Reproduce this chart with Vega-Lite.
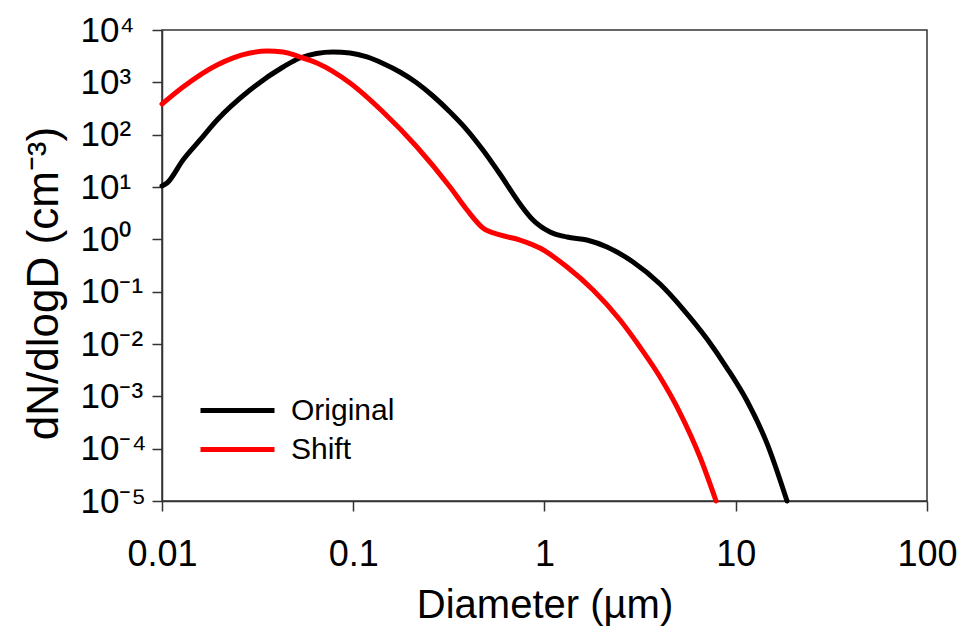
{
  "$schema": "https://vega.github.io/schema/vega-lite/v6.json",
  "width": 765,
  "height": 471,
  "autosize": {"type": "none"},
  "padding": {"left": 162, "top": 30, "right": 37, "bottom": 127},
  "background": "white",
  "config": {
    "view": {"stroke": "#333333", "strokeWidth": 1.5},
    "font": "Liberation Sans, Arial, sans-serif"
  },
  "data": {
    "values": [
      {"diameter": 0.01, "dndlogd": 10.45, "series": "Original"},
      {"diameter": 0.01062, "dndlogd": 11.91, "series": "Original"},
      {"diameter": 0.01288, "dndlogd": 32.8, "series": "Original"},
      {"diameter": 0.01581, "dndlogd": 79.1, "series": "Original"},
      {"diameter": 0.01941, "dndlogd": 190.5, "series": "Original"},
      {"diameter": 0.02884, "dndlogd": 712.9, "series": "Original"},
      {"diameter": 0.04295, "dndlogd": 1963, "series": "Original"},
      {"diameter": 0.05272, "dndlogd": 2917, "series": "Original"},
      {"diameter": 0.07834, "dndlogd": 3802, "series": "Original"},
      {"diameter": 0.09616, "dndlogd": 3631, "series": "Original"},
      {"diameter": 0.118, "dndlogd": 3050, "series": "Original"},
      {"diameter": 0.1432, "dndlogd": 2291, "series": "Original"},
      {"diameter": 0.1754, "dndlogd": 1575, "series": "Original"},
      {"diameter": 0.2153, "dndlogd": 971, "series": "Original"},
      {"diameter": 0.2612, "dndlogd": 548, "series": "Original"},
      {"diameter": 0.3206, "dndlogd": 271, "series": "Original"},
      {"diameter": 0.3936, "dndlogd": 122.7, "series": "Original"},
      {"diameter": 0.4764, "dndlogd": 50.9, "series": "Original"},
      {"diameter": 0.5848, "dndlogd": 17.7, "series": "Original"},
      {"diameter": 0.7447, "dndlogd": 4.73, "series": "Original"},
      {"diameter": 0.871, "dndlogd": 2.34, "series": "Original"},
      {"diameter": 1.069, "dndlogd": 1.38, "series": "Original"},
      {"diameter": 1.312, "dndlogd": 1.107, "series": "Original"},
      {"diameter": 1.667, "dndlogd": 0.9705, "series": "Original"},
      {"diameter": 2.123, "dndlogd": 0.713, "series": "Original"},
      {"diameter": 2.904, "dndlogd": 0.369, "series": "Original"},
      {"diameter": 4.018, "dndlogd": 0.14, "series": "Original"},
      {"diameter": 5.297, "dndlogd": 0.0466, "series": "Original"},
      {"diameter": 7.079, "dndlogd": 0.01245, "series": "Original"},
      {"diameter": 8.995, "dndlogd": 0.003475, "series": "Original"},
      {"diameter": 11.46, "dndlogd": 0.000813, "series": "Original"},
      {"diameter": 14.55, "dndlogd": 0.000128, "series": "Original"},
      {"diameter": 18.54, "dndlogd": 0.00001, "series": "Original"},

      {"diameter": 0.01, "dndlogd": 385.5, "series": "Shift"},
      {"diameter": 0.01288, "dndlogd": 814.7, "series": "Shift"},
      {"diameter": 0.01941, "dndlogd": 2143, "series": "Shift"},
      {"diameter": 0.02884, "dndlogd": 3631, "series": "Shift"},
      {"diameter": 0.0354, "dndlogd": 3972, "series": "Shift"},
      {"diameter": 0.04295, "dndlogd": 3802, "series": "Shift"},
      {"diameter": 0.05272, "dndlogd": 3048, "series": "Shift"},
      {"diameter": 0.06457, "dndlogd": 2339, "series": "Shift"},
      {"diameter": 0.09616, "dndlogd": 970.5, "series": "Shift"},
      {"diameter": 0.1432, "dndlogd": 271.0, "series": "Shift"},
      {"diameter": 0.2153, "dndlogd": 58.1, "series": "Shift"},
      {"diameter": 0.3206, "dndlogd": 10.0, "series": "Shift"},
      {"diameter": 0.3936, "dndlogd": 3.631, "series": "Shift"},
      {"diameter": 0.4764, "dndlogd": 1.644, "series": "Shift"},
      {"diameter": 0.5848, "dndlogd": 1.211, "series": "Shift"},
      {"diameter": 0.7447, "dndlogd": 0.9705, "series": "Shift"},
      {"diameter": 0.9462, "dndlogd": 0.6823, "series": "Shift"},
      {"diameter": 1.312, "dndlogd": 0.2958, "series": "Shift"},
      {"diameter": 1.795, "dndlogd": 0.1076, "series": "Shift"},
      {"diameter": 2.483, "dndlogd": 0.02871, "series": "Shift"},
      {"diameter": 3.155, "dndlogd": 0.00875, "series": "Shift"},
      {"diameter": 4.018, "dndlogd": 0.002339, "series": "Shift"},
      {"diameter": 5.117, "dndlogd": 0.0004797, "series": "Shift"},
      {"diameter": 6.501, "dndlogd": 0.00006918, "series": "Shift"},
      {"diameter": 7.889, "dndlogd": 0.00001, "series": "Shift"}
    ]
  },
  "mark": {"type": "line", "strokeWidth": 5, "interpolate": "monotone", "strokeCap": "round"},
  "encoding": {
    "x": {
      "field": "diameter",
      "type": "quantitative",
      "scale": {"type": "log", "domain": [0.01, 100], "nice": false},
      "axis": {
        "title": "Diameter (µm)",
        "values": [0.01, 0.1, 1, 10, 100],
        "labelExpr": "datum.value >= 1 ? format(datum.value, 'd') : format(datum.value, '.2~f')",
        "grid": false,
        "domainColor": "#333333",
        "domainWidth": 1.5,
        "tickColor": "#333333",
        "tickWidth": 1.5,
        "tickSize": 10,
        "labelFontSize": 36,
        "labelColor": "#000000",
        "labelPadding": 26,
        "labelFlush": false,
        "titleFontSize": 40,
        "titleFontWeight": "normal",
        "titleColor": "#000000",
        "titleBaseline": "alphabetic",
        "titleY": 116
      }
    },
    "y": {
      "field": "dndlogd",
      "type": "quantitative",
      "scale": {"type": "log", "domain": [0.00001, 10000], "nice": false},
      "axis": {
        "title": "dN/dlogD (cm⁻³)",
        "values": [0.00001, 0.0001, 0.001, 0.01, 0.1, 1, 10, 100, 1000, 10000],
        "labelExpr": "'10' + (round(log(datum.value) / LN10) < 0 ? '⁻' : '') + ['⁰', '¹', '²', '³', '⁴', '⁵'][abs(round(log(datum.value) / LN10))]",
        "grid": false,
        "domainColor": "#333333",
        "domainWidth": 1.5,
        "tickColor": "#333333",
        "tickWidth": 1.5,
        "tickSize": 10,
        "labelFontSize": 35,
        "labelColor": "#000000",
        "labelAlign": "left",
        "labelPadding": 72,
        "labelFlush": false,
        "titleFontSize": 44,
        "titleFontWeight": "normal",
        "titleColor": "#000000",
        "titleBaseline": "alphabetic",
        "titleX": -105,
        "titleY": 253
      }
    },
    "color": {
      "field": "series",
      "type": "nominal",
      "scale": {"domain": ["Original", "Shift"], "range": ["#000000", "#ff0000"]},
      "legend": {
        "title": null,
        "orient": "none",
        "legendX": 36,
        "legendY": 362,
        "padding": 0,
        "symbolType": "stroke",
        "symbolSize": 5476,
        "symbolStrokeWidth": 5,
        "clipHeight": 37,
        "labelFontSize": 30,
        "labelColor": "#000000",
        "labelOffset": 14,
        "rowPadding": 2
      }
    }
  }
}
